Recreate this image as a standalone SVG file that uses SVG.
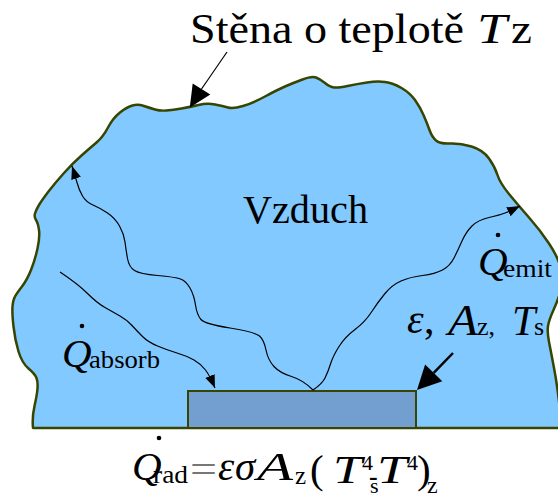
<svg xmlns="http://www.w3.org/2000/svg" width="558" height="493" viewBox="0 0 558 493">
<style>
.t{font-family:"Liberation Serif","Times New Roman",serif;fill:#000}
.i{font-style:italic}
.ray{fill:none;stroke:#000;stroke-width:1.2}
.ptr{stroke:#000;fill:none}
.dot{fill:#000}
</style>
<defs>
<marker id="ah" markerUnits="userSpaceOnUse" markerWidth="14" markerHeight="12" refX="13" refY="5" orient="auto">
<path d="M0,0 L13,5 L0,10 z" fill="#000"/>
</marker>
</defs>
<rect width="558" height="493" fill="#fff"/>
<g id="wall">
<path d="M33,428 Q32,417 34.5,406 Q37,395 37.5,388.5 Q38,382 36.5,378 Q35,374 28.5,368.5 Q22,363 18.5,351.5 Q15,340 13.5,326.5 Q12,313 12.5,306.5 Q13,300 15,296.5 Q17,293 22,286.5 Q27,280 31,270 Q35,260 37.5,248.5 Q40,237 39,230 Q38,223 36,220 Q34,217 35,213.5 Q36,210 39,205 Q42,200 48.5,191.5 Q55,183 64,173 Q73,163 81.5,155.5 Q90,148 96.5,142.5 Q103,137 108,127.5 Q113,118 120,112.5 Q127,107 132.5,105.5 Q138,104 144,106 Q150,108 155,109.5 Q160,111 166.5,110.5 Q173,110 181.5,108.5 Q190,107 198.5,105 Q207,103 215,104.5 Q223,106 228,107.5 Q233,109 243,106 Q253,103 265,96.5 Q277,90 285,86.5 Q293,83 302.5,79.5 Q312,76 316,77.5 Q320,79 325,83 Q330,87 334,87.5 Q338,88 347.5,86 Q357,84 367,82.5 Q377,81 385,82 Q393,83 401.5,88 Q410,93 415,100 Q420,107 423.5,115 Q427,123 429.5,130 Q432,137 436,140.5 Q440,144 450,143.5 Q460,143 471.5,146.5 Q483,150 489,158.5 Q495,167 497.5,175 Q500,183 509,194 Q518,205 529,217.5 Q540,230 549,243.5 Q558,257 561,268.5 Q564,280 561,290 Q558,300 553.5,310 Q549,320 548,326 Q547,332 549.5,344.5 Q552,357 555,373.5 Q558,390 562,428 L33,428 Z" fill="#82c9ff" stroke="#374500" stroke-width="2.5" stroke-linejoin="round"/>
</g>
<g id="surface">
<rect x="188" y="391" width="228" height="37" fill="#729fcf" stroke="#374500" stroke-width="2"/>
</g>
<g id="connectors">
<path class="ray" marker-end="url(#ah)" d="M313,390 Q303,380 291.5,376.5 Q280,373 274,366.5 Q268,360 266,350 Q264,340 259.5,336 Q255,332 230,328 Q205,324 201,319.5 Q197,315 195.5,305 Q194,295 190,288 Q186,281 180.5,279 Q175,277 157.5,275.5 Q140,274 134.5,270.5 Q129,267 127.5,258.5 Q126,250 125,242 Q124,234 119.5,226 Q115,218 107.5,213 Q100,208 93,205 Q86,202 82.5,196 Q79,190 77,182.5 Q75,175 72,166"/>
<path class="ray" marker-end="url(#ah)" d="M313,390 Q322,384 325,378 Q328,372 330.5,364 Q333,356 339,346.5 Q345,337 355,329.5 Q365,322 371.5,312 Q378,302 385,293.5 Q392,285 401,281 Q410,277 422.5,275.5 Q435,274 442.5,270 Q450,266 454,258 Q458,250 462,241 Q466,232 472,226 Q478,220 489,217.5 Q500,215 505,213 Q510,211 520,206"/>
<path class="ray" marker-end="url(#ah)" d="M60,272 Q78,284 87.5,293.5 Q97,303 105,307.5 Q113,312 120,316 Q127,320 132,325.5 Q137,331 142.5,336.5 Q148,342 157.5,346 Q167,350 177,353 Q187,356 194,360 Q201,364 205.5,370 Q210,376 215,388"/>
<line class="ptr" x1="227" y1="52" x2="201.5" y2="89" stroke-width="1.2"/>
<polygon points="189.8,107.6 192.7,83.5 210.3,94.5" fill="#000"/>
<line class="ptr" x1="453" y1="353" x2="433.7" y2="372.8" stroke-width="2.5"/>
<polygon points="417,390 425.1,364.4 442.3,381.2" fill="#000"/>
</g>
<g id="label-wall">
<text class="t" x="190" y="43" font-size="42" textLength="274" lengthAdjust="spacingAndGlyphs">Stěna o teplotě</text>
<text class="t i" x="477" y="43" font-size="42" textLength="30" lengthAdjust="spacingAndGlyphs">T</text>
<text class="t" x="511" y="43" font-size="42" textLength="21" lengthAdjust="spacingAndGlyphs">z</text>
</g>
<g id="label-air">
<text class="t" x="243" y="223" font-size="40" textLength="125" lengthAdjust="spacingAndGlyphs">Vzduch</text>
</g>
<g id="label-absorb">
<circle class="dot" cx="82" cy="326" r="2.3"/>
<text class="t i" x="62" y="367" font-size="41">Q</text>
<text class="t" x="89" y="368" font-size="25" textLength="71" lengthAdjust="spacingAndGlyphs">absorb</text>
</g>
<g id="label-emit">
<circle class="dot" cx="498" cy="235" r="2.3"/>
<text class="t i" x="478" y="275" font-size="41">Q</text>
<text class="t" x="503" y="277" font-size="25" textLength="49" lengthAdjust="spacingAndGlyphs">emit</text>
</g>
<g id="label-surface">
<text class="t i" x="407" y="333" font-size="42">ε</text>
<text class="t" x="424" y="333" font-size="42">,</text>
<text class="t i" x="448" y="335" font-size="44" textLength="30" lengthAdjust="spacingAndGlyphs">A</text>
<text class="t" x="477" y="335" font-size="26">z,</text>
<text class="t i" x="512" y="335" font-size="42">T</text>
<text class="t" x="534" y="335" font-size="26">s</text>
</g>
<g id="label-formula">
<circle class="dot" cx="159" cy="438" r="2.3"/>
<text class="t i" x="132" y="480" font-size="41">Q</text>
<text class="t" x="153" y="483" font-size="25" textLength="35" lengthAdjust="spacingAndGlyphs">rad</text>
<text class="t" x="190" y="483" font-size="40" style="fill:#777" textLength="27" lengthAdjust="spacingAndGlyphs">=</text>
<text class="t i" x="218" y="480" font-size="41">ε</text>
<text class="t i" x="235" y="480" font-size="41">σ</text>
<text class="t i" x="257" y="480" font-size="41" textLength="36" lengthAdjust="spacingAndGlyphs">A</text>
<text class="t" x="295" y="484" font-size="25">z</text>
<text class="t" x="310" y="483" font-size="41">(</text>
<text class="t i" x="333" y="483" font-size="41" textLength="29" lengthAdjust="spacingAndGlyphs">T</text>
<text class="t" x="362" y="470" font-size="22">4</text>
<text class="t" x="369" y="485" font-size="26" font-weight="bold">-</text>
<text class="t" x="370" y="493" font-size="22">s</text>
<text class="t i" x="377" y="483" font-size="41" textLength="30" lengthAdjust="spacingAndGlyphs">T</text>
<text class="t" x="407" y="470" font-size="22">4</text>
<text class="t" x="417" y="483" font-size="41">)</text>
<text class="t" x="427" y="493" font-size="24">z</text>
</g>
</svg>
